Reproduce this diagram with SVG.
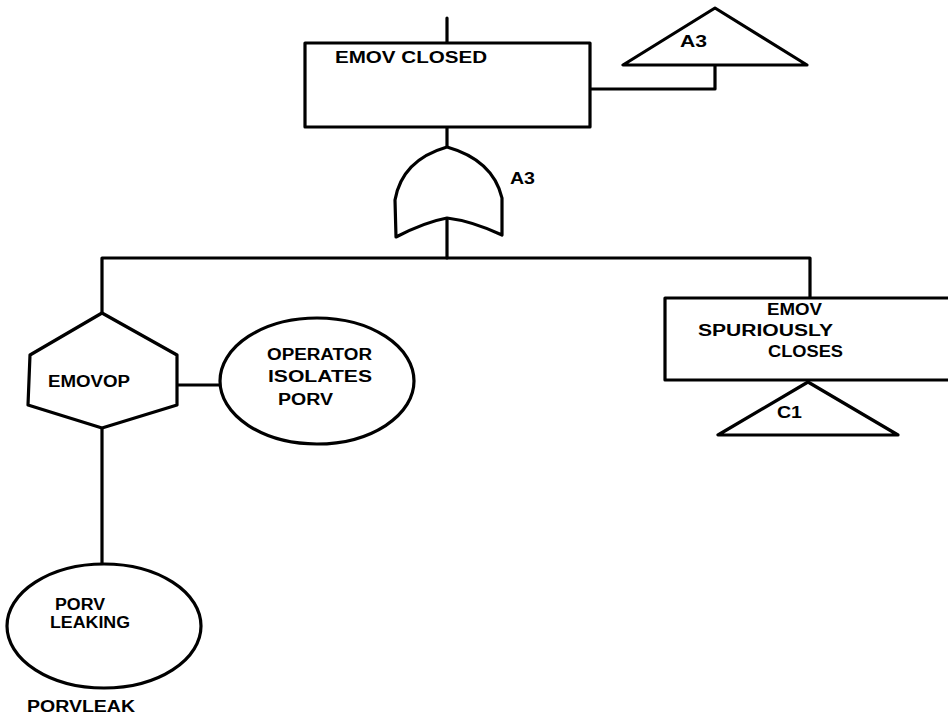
<svg xmlns="http://www.w3.org/2000/svg" width="948" height="720" viewBox="0 0 948 720">
<style>
.s{fill:#fff;stroke:#000;stroke-width:3.2;stroke-linejoin:round;stroke-linecap:round}
.c{fill:none;stroke:#000;stroke-width:3.2;stroke-linejoin:round;stroke-linecap:round}
.t{font-family:"Liberation Sans","DejaVu Sans",sans-serif;font-weight:bold;font-size:16px;fill:#000}
</style>
<rect width="948" height="720" fill="#fff"/>
<g id="connectors">
<line class="c" x1="447" y1="18" x2="447" y2="43"/>
<polyline class="c" points="590,89 715,89 715,65"/>
<line class="c" x1="447" y1="127" x2="447" y2="147"/>
<line class="c" x1="447" y1="218" x2="447" y2="258"/>
<polyline class="c" points="102,313 102,258 810,258 810,298"/>
<line class="c" x1="177" y1="385" x2="220" y2="385"/>
<line class="c" x1="102" y1="428" x2="102" y2="564"/>
</g>
<g id="top-event">
<rect class="s" x="305" y="43" width="285" height="84"/>
<text class="t" x="335" y="63" textLength="152" lengthAdjust="spacingAndGlyphs">EMOV CLOSED</text>
</g>
<g id="transfer-A3">
<polygon class="s" points="715,8 623,65 807,65"/>
<text class="t" x="680" y="47" textLength="27" lengthAdjust="spacingAndGlyphs">A3</text>
</g>
<g id="or-gate-A3">
<path class="s" d="M447,147 Q402,160 395,200 L396,237 Q425,222 447,218 Q472,221 502,235 L502,198 Q493,160 447,147 Z"/>
<text class="t" x="510" y="184" textLength="25" lengthAdjust="spacingAndGlyphs">A3</text>
</g>
<g id="EMOVOP">
<polygon class="s" points="102,313 177,355 177,405 102,428 28,405 30,355"/>
<text class="t" x="48" y="387" textLength="82" lengthAdjust="spacingAndGlyphs">EMOVOP</text>
</g>
<g id="operator-isolates">
<ellipse class="s" cx="317" cy="381" rx="97" ry="63"/>
<text class="t" x="267" y="360" textLength="105" lengthAdjust="spacingAndGlyphs">OPERATOR</text>
<text class="t" x="268" y="382" textLength="104" lengthAdjust="spacingAndGlyphs">ISOLATES</text>
<text class="t" x="278" y="405" textLength="55" lengthAdjust="spacingAndGlyphs">PORV</text>
</g>
<g id="spurious-close">
<rect class="s" x="665" y="298" width="290" height="82"/>
<text class="t" x="767" y="315" textLength="55" lengthAdjust="spacingAndGlyphs">EMOV</text>
<text class="t" x="698" y="336" textLength="135" lengthAdjust="spacingAndGlyphs">SPURIOUSLY</text>
<text class="t" x="768" y="357" textLength="75" lengthAdjust="spacingAndGlyphs">CLOSES</text>
</g>
<g id="transfer-C1">
<polygon class="s" points="808,382 718,435 898,435"/>
<text class="t" x="777" y="418" textLength="25" lengthAdjust="spacingAndGlyphs">C1</text>
</g>
<g id="porv-leaking">
<ellipse class="s" cx="104" cy="626" rx="97" ry="62"/>
<text class="t" x="55" y="610" textLength="50" lengthAdjust="spacingAndGlyphs">PORV</text>
<text class="t" x="50" y="628" textLength="80" lengthAdjust="spacingAndGlyphs">LEAKING</text>
<text class="t" x="27" y="712" textLength="108" lengthAdjust="spacingAndGlyphs">PORVLEAK</text>
</g>
</svg>
